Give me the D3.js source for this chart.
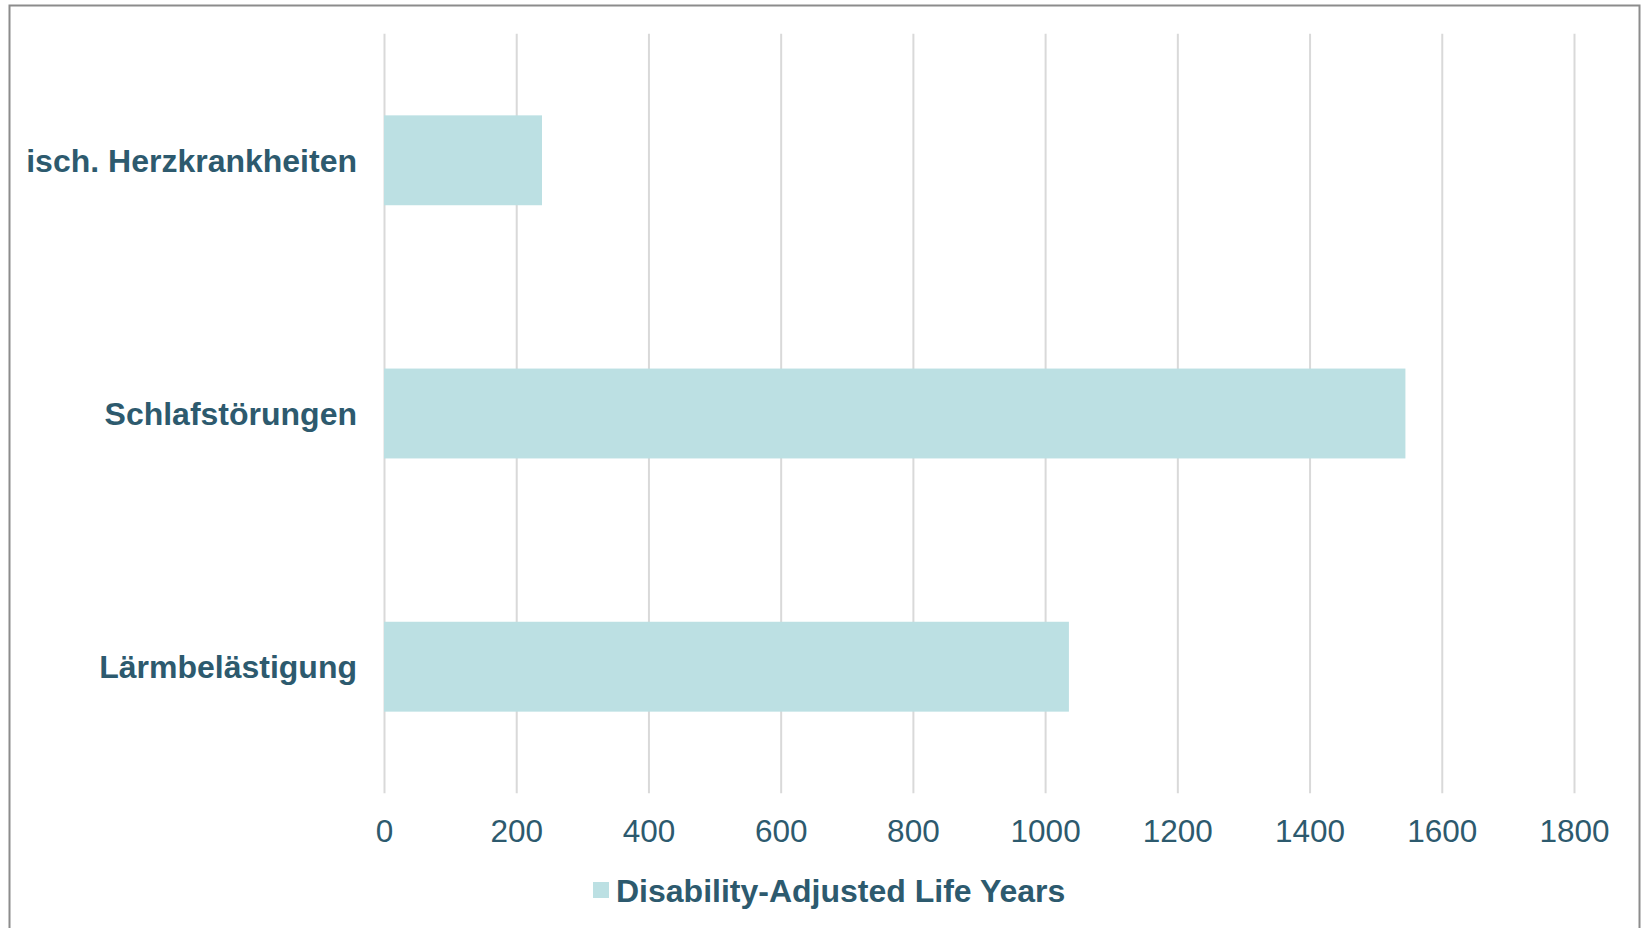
<!DOCTYPE html>
<html>
<head>
<meta charset="utf-8">
<script src="https://cdn.jsdelivr.net/npm/d3@7"></script>
<style>
  body { margin: 0; background: #fff; }
  text { font-family: "Liberation Sans", Arial, sans-serif; }
</style>
</head>
<body>
<div id="chart"></div>
<script>
// data
const categories = ["isch. Herzkrankheiten", "Schlafstörungen", "Lärmbelästigung"];
const dalys = [239, 1545, 1036];
const xTicks = [0, 200, 400, 600, 800, 1000, 1200, 1400, 1600, 1800];
const seriesName = "Disability-Adjusted Life Years";

const W = 1642, H = 928;
const plot = {left: 384, right: 1574, top: 33.7, bottom: 793.3};
const textColor = "#2d5a6e", barColor = "#bce0e3";

const svg = d3.select("#chart").append("svg")
  .attr("width", W).attr("height", H);

// outer frame of the chart
svg.append("rect")
  .attr("x", 9.5).attr("y", 5.5)
  .attr("width", 1630).attr("height", 940)
  .attr("fill", "none").attr("stroke", "#8c8c8c").attr("stroke-width", 2);

const x = d3.scaleLinear().domain([0, 1800]).range([plot.left, plot.right]);
const y = d3.scaleBand().domain(categories)
  .range([plot.top, plot.bottom])
  .paddingInner(0.645).paddingOuter(0.3225);

// vertical gridlines
svg.append("g")
  .attr("transform", `translate(0, ${plot.bottom})`)
  .call(d3.axisBottom(x).tickValues(xTicks).tickSize(-(plot.bottom - plot.top)).tickFormat(""))
  .call(g => g.select(".domain").remove())
  .call(g => g.selectAll("line").attr("stroke", "#d9d9d9").attr("stroke-width", 2));

// bars
svg.selectAll("rect.bar")
  .data(dalys)
  .join("rect")
    .attr("class", "bar")
    .attr("x", x(0))
    .attr("y", (d, i) => y(categories[i]))
    .attr("width", d => x(d) - x(0))
    .attr("height", y.bandwidth())
    .attr("fill", barColor);

// x tick labels
svg.append("g")
  .attr("transform", `translate(0, ${plot.bottom})`)
  .call(d3.axisBottom(x).tickValues(xTicks).tickSize(0).tickPadding(0).tickFormat(d3.format("d")))
  .call(g => g.select(".domain").remove())
  .call(g => g.selectAll("text")
    .attr("dy", null).attr("y", 49)
    .attr("font-size", "31.5px").attr("font-family", "'Liberation Sans', Arial, sans-serif")
    .attr("fill", textColor));

// category labels
svg.append("g")
  .call(d3.axisLeft(y).tickSize(0).tickPadding(0))
  .attr("transform", `translate(357, 0)`)
  .call(g => g.select(".domain").remove())
  .call(g => g.selectAll("text")
    .attr("dy", "0.35em")
    .attr("font-size", "32px").attr("font-weight", "bold")
    .attr("font-family", "'Liberation Sans', Arial, sans-serif")
    .attr("fill", textColor));

// legend
const legend = svg.append("g").attr("transform", "translate(593, 882)");
legend.append("rect")
  .attr("width", 16).attr("height", 16)
  .attr("fill", barColor);
legend.append("text")
  .attr("x", 23).attr("y", 19.5)
  .attr("font-size", "32px").attr("font-weight", "bold")
  .attr("fill", textColor)
  .text(seriesName);
</script>
</body>
</html>
